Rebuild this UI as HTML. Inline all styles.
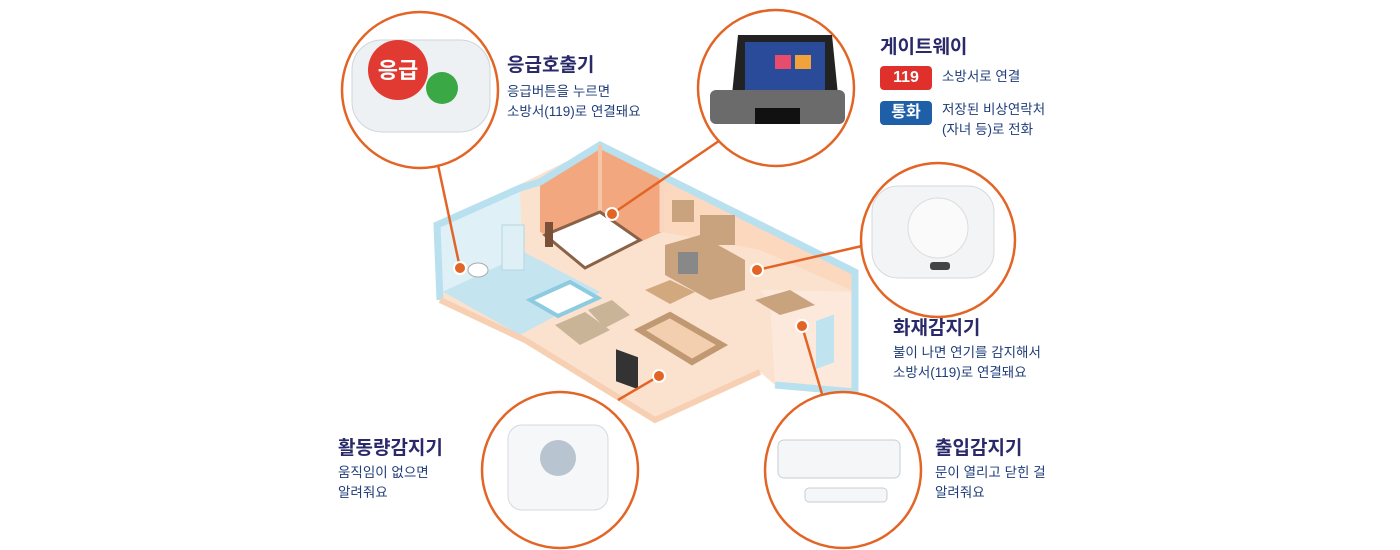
<!DOCTYPE html>
<html><head><meta charset="utf-8">
<style>
body{margin:0;width:1400px;height:550px;background:#fff;overflow:hidden;position:relative;font-family:"Liberation Sans","Noto Sans CJK KR",sans-serif}
.t{position:absolute;font-weight:bold;font-size:19px;color:#2a2a6a;white-space:nowrap}
.d{position:absolute;font-size:13.5px;color:#1f3d7a;line-height:20px;white-space:nowrap}
.b{position:absolute;color:#fff;font-weight:bold;font-size:16px;text-align:center;line-height:24px;border-radius:4px}
</style></head><body>
<svg width="1400" height="550" style="position:absolute;left:0;top:0">
<!-- floor -->
<polygon points="437,225 600,145 855,272 855,392 775,385 760,372 655,420 525,340 440,300" fill="#fbe2cf"/>
<polygon points="440,290 520,250 600,292 520,335" fill="#c4e4ef"/>
<polygon points="437,225 520,188 522,255 440,293" fill="#dff1f7"/>
<polygon points="540,182 600,145 662,178 662,232 600,260 540,232" fill="#f3a77f"/>
<polygon points="662,178 855,272 855,292 760,250 662,232" fill="#fcd8bf"/>
<polygon points="760,290 855,292 855,392 775,385 770,300" fill="#fde9dc"/>
<polyline points="440,300 437,225 520,188 540,182 600,145 855,272 855,392 775,385" fill="none" stroke="#b9e0ee" stroke-width="7"/>
<polyline points="440,300 525,340 655,420 760,372" fill="none" stroke="#f7d0b4" stroke-width="6"/>
<line x1="600" y1="145" x2="600" y2="260" stroke="#f6c4a6" stroke-width="4"/>
<line x1="662" y1="178" x2="662" y2="232" stroke="#f8d6c0" stroke-width="5"/>
<!-- furniture -->
<polygon points="545,235 600,212 640,240 585,268" fill="#fff" stroke="#8a6248" stroke-width="3"/>
<rect x="545" y="222" width="8" height="25" fill="#7a5038"/>
<rect x="672" y="200" width="22" height="22" fill="#c9a37e"/><rect x="700" y="215" width="35" height="30" fill="#c9a37e"/>
<polygon points="665,245 700,235 745,260 745,290 710,300 665,275" fill="#c9a37e"/>
<rect x="678" y="252" width="20" height="22" fill="#888"/>
<polygon points="645,290 670,280 695,292 670,304" fill="#d2a97f"/>
<polygon points="640,330 670,315 722,345 692,362" fill="#f3cfb0" stroke="#c09872" stroke-width="6"/>
<polygon points="555,325 585,312 610,330 580,345" fill="#c9b497"/><polygon points="588,310 612,300 630,315 605,328" fill="#c9b497"/>
<rect x="616" y="345" width="22" height="32" fill="#333" transform="skewY(20) translate(0,-220)"/>
<polygon points="530,300 570,282 598,298 558,316" fill="#fff" stroke="#8ccbe0" stroke-width="4"/>
<rect x="502" y="225" width="22" height="45" fill="#dfeff6" stroke="#b3d6e3"/>
<ellipse cx="478" cy="270" rx="10" ry="7" fill="#fff" stroke="#aaa"/>
<polygon points="755,300 790,290 815,305 780,315" fill="#c9a37e"/>
<rect x="816" y="318" width="18" height="48" fill="#bfe3ef" transform="skewY(-20) translate(0,300)"/>
<!-- connectors -->
<g stroke="#e26526" stroke-width="2.5" fill="none">
<line x1="438" y1="165" x2="460" y2="268"/>
<line x1="735" y1="130" x2="612" y2="214"/>
<line x1="862" y1="246" x2="757" y2="270"/>
<line x1="618" y1="400" x2="659" y2="376"/>
<line x1="822" y1="394" x2="802" y2="326"/>
</g>
<g fill="#e26526" stroke="#fff" stroke-width="2">
<circle cx="460" cy="268" r="6"/><circle cx="612" cy="214" r="6"/><circle cx="757" cy="270" r="6"/><circle cx="659" cy="376" r="6"/><circle cx="802" cy="326" r="6"/>
</g>
<!-- circles -->
<g fill="#fff" stroke="#e26526" stroke-width="2.5">
<circle cx="420" cy="90" r="78"/><circle cx="776" cy="88" r="78"/><circle cx="938" cy="240" r="77"/>
<circle cx="560" cy="470" r="78"/><circle cx="843" cy="470" r="78"/>
</g>
<!-- emergency button -->
<rect x="352" y="40" width="138" height="92" rx="30" fill="#eef1f3" stroke="#cfd6da"/>
<circle cx="398" cy="70" r="30" fill="#e03a32"/>
<text x="398" y="78" font-size="22" font-weight="bold" fill="#fff" text-anchor="middle" font-family="Liberation Sans,Noto Sans CJK KR,sans-serif">응급</text>
<circle cx="442" cy="88" r="16" fill="#3aa945"/>
<!-- gateway -->
<polygon points="738,35 832,35 838,95 732,95" fill="#222"/>
<rect x="745" y="42" width="80" height="48" fill="#2a4b9a"/>
<rect x="775" y="55" width="16" height="14" fill="#e84b6b"/><rect x="795" y="55" width="16" height="14" fill="#f2a23a"/>
<rect x="710" y="90" width="135" height="34" rx="6" fill="#6b6b6b"/>
<rect x="755" y="108" width="45" height="16" fill="#111"/>
<!-- fire detector -->
<rect x="872" y="186" width="122" height="92" rx="26" fill="#f2f4f6" stroke="#d6dadd"/>
<circle cx="938" cy="228" r="30" fill="#fafafa" stroke="#dcdcdc"/>
<rect x="930" y="262" width="20" height="8" rx="3" fill="#444"/>
<!-- activity -->
<rect x="508" y="425" width="100" height="85" rx="14" fill="#f6f7f8" stroke="#d6dadd"/>
<circle cx="558" cy="458" r="18" fill="#b8c4cf"/>
<!-- door -->
<rect x="778" y="440" width="122" height="38" rx="6" fill="#f4f6f8" stroke="#c9cfd4"/>
<rect x="805" y="488" width="82" height="14" rx="4" fill="#f4f6f8" stroke="#c9cfd4"/>
</svg>
<div class="t" style="left:507px;top:50px">응급호출기</div>
<div class="d" style="left:507px;top:82px">응급버튼을 누르면<br>소방서(119)로 연결돼요</div>
<div class="t" style="left:880px;top:32px">게이트웨이</div>
<div class="b" style="left:880px;top:66px;width:52px;background:#e0302c">119</div>
<div class="d" style="left:942px;top:67px">소방서로 연결</div>
<div class="b" style="left:880px;top:101px;width:52px;background:#1f5fa8">통화</div>
<div class="d" style="left:942px;top:100px">저장된 비상연락처<br>(자녀 등)로 전화</div>
<div class="t" style="left:893px;top:313px">화재감지기</div>
<div class="d" style="left:893px;top:343px">불이 나면 연기를 감지해서<br>소방서(119)로 연결돼요</div>
<div class="t" style="left:338px;top:433px">활동량감지기</div>
<div class="d" style="left:338px;top:463px">움직임이 없으면<br>알려줘요</div>
<div class="t" style="left:935px;top:433px">출입감지기</div>
<div class="d" style="left:935px;top:463px">문이 열리고 닫힌 걸<br>알려줘요</div>
</body></html>
